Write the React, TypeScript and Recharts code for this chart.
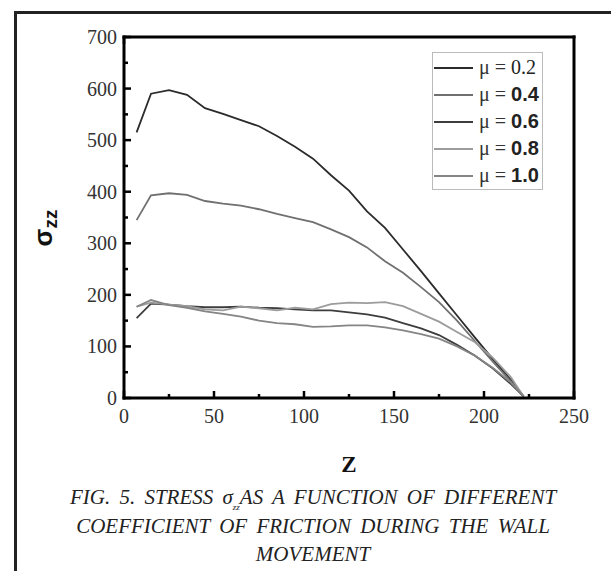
import { LineChart, Line, XAxis, YAxis, Legend } from "recharts";

// z positions (same for every curve)
const zValues = [7, 15, 25, 35, 45, 55, 65, 75, 85, 95, 105, 115, 125, 135, 145, 155, 165, 175, 185, 195, 205, 215, 222];

// sigma_zz for each friction coefficient
const mu02 = [515, 590, 597, 588, 562, 551, 539, 527, 508, 487, 464, 432, 402, 362, 330, 288, 246, 203, 160, 117, 75, 35, 3];
const mu04 = [345, 393, 397, 394, 382, 377, 373, 366, 357, 349, 341, 327, 312, 292, 265, 243, 215, 186, 150, 110, 70, 32, 3];
const mu06 = [155, 183, 181, 178, 176, 176, 177, 175, 174, 172, 170, 170, 166, 162, 156, 145, 135, 122, 103, 82, 57, 27, 3];
const mu08 = [177, 185, 181, 178, 172, 170, 177, 174, 170, 175, 172, 182, 185, 184, 186, 178, 163, 148, 128, 108, 78, 40, 3];
const mu10 = [177, 190, 180, 175, 168, 163, 158, 150, 145, 143, 138, 139, 141, 141, 137, 131, 124, 115, 100, 82, 58, 30, 3];

const muLabels = ["0.2", "0.4", "0.6", "0.8", "1.0"];
const xTicks = [0, 25, 50, 75, 100, 125, 150, 175, 200, 225, 250];
const yTicks = [0, 50, 100, 150, 200, 250, 300, 350, 400, 450, 500, 550, 600, 650, 700];

const seriesValues = [mu02, mu04, mu06, mu08, mu10];
const COLORS = ["#2b2b2b", "#707070", "#3d3d3d", "#9c9c9c", "#858585"];

const data = zValues.map((z, i) => {
  const row: Record<string, number> = { z };
  seriesValues.forEach((vals, s) => {
    row["s" + s] = vals[i];
  });
  return row;
});

const SERIF = "'Liberation Serif', 'Times New Roman', serif";
const SANS = "'Liberation Sans', Arial, sans-serif";

const BottomTick = (props: any) => {
  const { x, y, payload } = props;
  const major = payload.value % 50 === 0;
  return (
    <g>
      <line x1={x} x2={x} y1={y} y2={y - (major ? 7 : 4)} stroke="#000" strokeWidth={2.5} />
      {major && (
        <text x={x} y={y + 18} textAnchor="middle" dominantBaseline="central" fontFamily={SERIF} fontSize={20} fill="#333">
          {payload.value}
        </text>
      )}
    </g>
  );
};

const TopTick = (props: any) => {
  const { x, y, payload } = props;
  const major = payload.value % 50 === 0;
  return <line x1={x} x2={x} y1={y} y2={y + (major ? 7 : 4)} stroke="#000" strokeWidth={2.5} />;
};

const LeftTick = (props: any) => {
  const { x, y, payload } = props;
  const major = payload.value % 100 === 0;
  return (
    <g>
      <line x1={x} x2={x + (major ? 7 : 4)} y1={y} y2={y} stroke="#000" strokeWidth={2.5} />
      {major && (
        <text x={x - 7} y={y} textAnchor="end" dominantBaseline="central" fontFamily={SERIF} fontSize={20} fill="#333">
          {payload.value}
        </text>
      )}
    </g>
  );
};

const RightTick = (props: any) => {
  const { x, y, payload } = props;
  const major = payload.value % 100 === 0;
  return <line x1={x} x2={x - (major ? 7 : 4)} y1={y} y2={y} stroke="#000" strokeWidth={2.5} />;
};

const YTitle = () => (
  <text x={0} y={0} transform="translate(52, 228) rotate(-90)" textAnchor="middle" fontFamily={SANS} fontWeight="bold" fill="#111">
    <tspan fontSize={26}>σ</tspan>
    <tspan fontSize={19} dy={5}>zz</tspan>
  </text>
);

const XTitle = () => (
  <text x={349} y={464} textAnchor="middle" dominantBaseline="central" fontFamily={SERIF} fontWeight="bold" fontSize={23} fill="#111">
    Z
  </text>
);

const LegendBox = (props: any) => {
  const { payload } = props;
  return (
    <div style={{ border: "1px solid #bbb", background: "#fff", padding: "1px 0 0 0", width: 111, boxSizing: "border-box" }}>
      {(payload || []).map((entry: any, i: number) => (
        <div key={i} style={{ display: "flex", alignItems: "center", height: 27 }}>
          <div style={{ width: 39, height: 0, borderTop: `2px solid ${entry.color}`, marginLeft: 1, marginRight: 6 }} />
          <span style={{ fontFamily: SERIF, fontSize: 20, color: "#333", whiteSpace: "pre" }}>μ = </span>
          <span
            style={{
              fontFamily: i === 0 ? SERIF : SANS,
              fontWeight: i === 0 ? "normal" : "bold",
              fontSize: 20,
              color: "#222",
            }}
          >
            {entry.value}
          </span>
        </div>
      ))}
    </div>
  );
};

export default function App() {
  return (
    <div style={{ position: "absolute", left: 0, top: 0, width: 611, height: 571, background: "#fff", overflow: "hidden" }}>
      <div
        style={{
          position: "absolute",
          left: 14,
          top: 11,
          width: 700,
          height: 700,
          borderTop: "3px solid #222",
          borderLeft: "3px solid #222",
        }}
      />
      <div style={{ position: "absolute", left: 0, top: 0 }}>
        <LineChart width={611} height={571} data={data} margin={{ top: 7, right: 7, bottom: 143, left: 0 }}>
          <XAxis
            dataKey="z"
            type="number"
            domain={[0, 250]}
            ticks={xTicks}
            interval={0}
            height={30}
            tickSize={0}
            tickMargin={0}
            tick={<BottomTick />}
            axisLine={{ stroke: "#000", strokeWidth: 3, strokeLinecap: "square" }}
            label={<XTitle />}
          />
          <XAxis
            xAxisId="top"
            orientation="top"
            type="number"
            domain={[0, 250]}
            ticks={xTicks}
            interval={0}
            height={30}
            tickSize={0}
            tickMargin={0}
            tick={<TopTick />}
            axisLine={{ stroke: "#000", strokeWidth: 3, strokeLinecap: "square" }}
          />
          <YAxis
            type="number"
            domain={[0, 700]}
            ticks={yTicks}
            interval={0}
            width={124}
            tickSize={0}
            tickMargin={0}
            tick={<LeftTick />}
            axisLine={{ stroke: "#000", strokeWidth: 3, strokeLinecap: "square" }}
            label={<YTitle />}
          />
          <YAxis
            yAxisId="right"
            orientation="right"
            type="number"
            domain={[0, 700]}
            ticks={yTicks}
            interval={0}
            width={30}
            tickSize={0}
            tickMargin={0}
            tick={<RightTick />}
            axisLine={{ stroke: "#000", strokeWidth: 3, strokeLinecap: "square" }}
          />
          {seriesValues.map((_, s) => (
            <Line
              key={s}
              dataKey={"s" + s}
              name={muLabels[s]}
              type="linear"
              stroke={COLORS[s]}
              strokeWidth={1.8}
              dot={false}
              isAnimationActive={false}
            />
          ))}
          <Legend
            layout="vertical"
            align="center"
            verticalAlign="middle"
            content={<LegendBox />}
            wrapperStyle={{ left: 432, top: 52, width: 112 }}
          />
        </LineChart>
      </div>
      <div
        style={{
          position: "absolute",
          left: 15,
          width: 596,
          top: 483,
          textAlign: "center",
          fontFamily: SERIF,
          fontStyle: "italic",
          fontSize: 21,
          lineHeight: "28.5px",
          color: "#222",
          wordSpacing: 4,
        }}
      >
        <div>
          FIG. 5. STRESS σ
          <span style={{ fontSize: 9, lineHeight: 0, position: "relative", top: 6 }}>zz</span>
          AS A FUNCTION OF DIFFERENT
        </div>
        <div>COEFFICIENT OF FRICTION DURING THE WALL</div>
        <div>MOVEMENT</div>
      </div>
    </div>
  );
}
